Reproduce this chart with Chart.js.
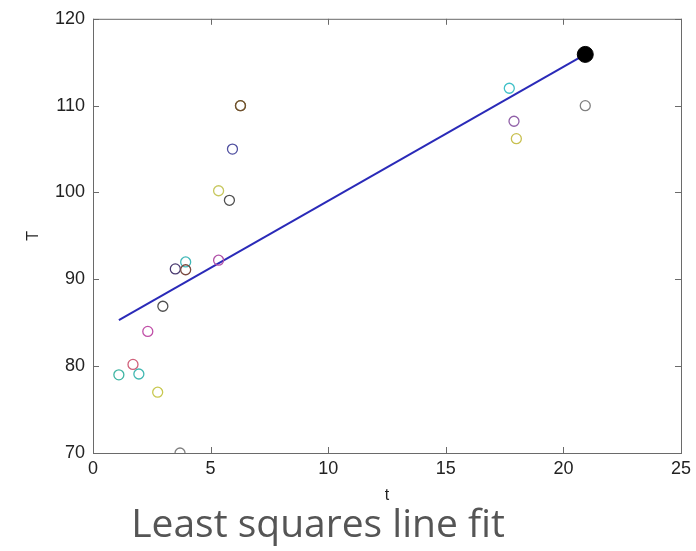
<!DOCTYPE html>
<html>
<head>
<meta charset="utf-8">
<script src="https://cdn.jsdelivr.net/npm/chart.js@4.4.1/dist/chart.umd.min.js"></script>
<style>
  html, body { margin: 0; padding: 0; background: #fff; }
  #wrap { width: 696px; height: 551px; }
</style>
</head>
<body>
<div id="wrap"><canvas id="chart" width="696" height="551"></canvas></div>
<script>
"use strict";

const tVals = [1.1, 1.7, 1.95, 2.33, 2.75, 2.97, 3.5, 3.94, 3.94, 3.7, 5.34, 5.34, 5.8, 5.93, 6.27, 6.27, 17.7, 17.9, 18.0, 20.93];
const TVals = [79, 80.2, 79.1, 84, 77, 86.9, 91.2, 92, 91.1, 70, 92.2, 100.2, 99.1, 105, 110, 110, 112, 108.2, 106.2, 110];
const pointColors = [
  "#3fb5a3", "#d0607a", "#42b8b2", "#c050a8", "#c8c850", "#505050", "#4a3a70", "#40b8b8", "#7a4a40", "#808080",
  "#b050a8", "#c8c860", "#505050", "#5050a0", "#8a8040", "#705030", "#40c0c8", "#9060a8", "#c8c050", "#808080",
];

// least squares line (endpoints)
const fitT = [1.1, 20.93];
const fitTemp = [85.3, 115.9];

// big marker at end
const endT = [20.93];
const endTemp = [115.9];

const xTicks = [0, 5, 10, 15, 20, 25];
const yTicks = [70, 80, 90, 100, 110, 120];

const captionText = "Least squares line fit";

const toXY = (xs, ys) => xs.map((x, i) => ({ x: x, y: ys[i] }));

// MATLAB-ish box with inward ticks
const boxPlugin = {
  id: "box",
  afterDraw(chart) {
    const { ctx, chartArea: a, scales } = chart;
    ctx.save();
    ctx.strokeStyle = "#6a6a6a";
    ctx.lineWidth = 1;
    ctx.strokeRect(a.left + 0.5, a.top + 0.5, a.right - a.left, a.bottom - a.top);
    ctx.beginPath();
    scales.x.ticks.forEach((t) => {
      const px = Math.round(scales.x.getPixelForValue(t.value)) + 0.5;
      ctx.moveTo(px, a.bottom); ctx.lineTo(px, a.bottom - 6);
      ctx.moveTo(px, a.top); ctx.lineTo(px, a.top + 6);
    });
    scales.y.ticks.forEach((t) => {
      const py = Math.round(scales.y.getPixelForValue(t.value)) + 0.5;
      ctx.moveTo(a.left, py); ctx.lineTo(a.left + 6, py);
      ctx.moveTo(a.right, py); ctx.lineTo(a.right - 6, py);
    });
    ctx.stroke();

    // caption under the plot (slide title)
    ctx.fillStyle = "#555555";
    ctx.font = "39px 'Open Sans'";
    ctx.textAlign = "center";
    ctx.textBaseline = "alphabetic";
    ctx.fillText(captionText, 318, 537);
    ctx.restore();
  },
};

const config = {
  type: "scatter",
  data: {
    datasets: [
      {
        label: "fit",
        type: "line",
        data: toXY(fitT, fitTemp),
        borderColor: "#2a2ab8",
        borderWidth: 2,
        pointRadius: 0,
        fill: false,
        order: 2,
      },
      {
        label: "data",
        data: toXY(tVals, TVals),
        pointStyle: "circle",
        pointRadius: 5,
        pointBorderWidth: 1.3,
        pointBackgroundColor: "rgba(0,0,0,0)",
        pointBorderColor: pointColors,
        order: 1,
      },
      {
        label: "end",
        data: toXY(endT, endTemp),
        pointRadius: 8,
        pointBackgroundColor: "#000",
        pointBorderColor: "#000",
        order: 0,
      },
    ],
  },
  options: {
    responsive: false,
    animation: false,
    layout: { padding: { top: 17, right: 13, left: 0, bottom: 46 } },
    plugins: {
      legend: { display: false },
      tooltip: { enabled: false },
      title: { display: false },
    },
    scales: {
      x: {
        type: "linear",
        min: 0,
        max: 25,
        afterBuildTicks: (s) => { s.ticks = xTicks.map((v) => ({ value: v })); },
        afterFit: (s) => { s.height = 52; },
        grid: { display: false, drawTicks: false },
        border: { display: false },
        ticks: { color: "#222", font: { family: "Liberation Sans", size: 18 }, padding: 5 },
        title: { display: true, text: "t", color: "#222", font: { family: "Liberation Sans", size: 16 }, padding: { top: 0, bottom: 0 } },
      },
      y: {
        type: "linear",
        min: 70,
        max: 120,
        afterBuildTicks: (s) => { s.ticks = yTicks.map((v) => ({ value: v })); },
        afterFit: (s) => { s.width = 93; },
        grid: { display: false, drawTicks: false },
        border: { display: false },
        ticks: { color: "#222", font: { family: "Liberation Sans", size: 18 }, padding: 8 },
        title: { display: true, text: "T", color: "#222", font: { family: "Liberation Sans", size: 16 }, padding: { top: 24, bottom: 0 } },
      },
    },
  },
  plugins: [boxPlugin],
};

const myChart = new Chart(document.getElementById("chart"), config);
</script>
</body>
</html>
